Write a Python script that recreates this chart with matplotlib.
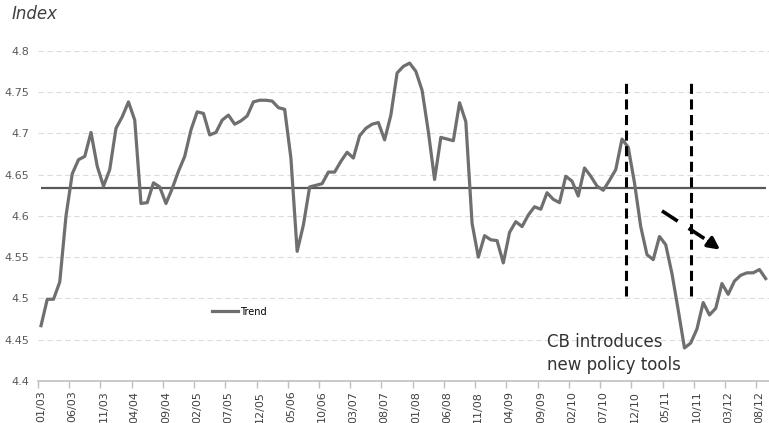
import numpy as np
import matplotlib.pyplot as plt

# monthly index, 01/03 .. 09/12
trend = [
    4.467, 4.499, 4.499, 4.520, 4.600, 4.651, 4.668, 4.672, 4.701, 4.660,
    4.636, 4.656, 4.706, 4.720, 4.738, 4.716, 4.615, 4.616, 4.640, 4.635,
    4.615, 4.633, 4.654, 4.672, 4.704, 4.726, 4.724, 4.698, 4.701, 4.716,
    4.722, 4.711, 4.715, 4.721, 4.738, 4.740, 4.740, 4.739, 4.731, 4.729,
    4.670, 4.557, 4.589, 4.635, 4.637, 4.639, 4.653, 4.653, 4.666, 4.677,
    4.670, 4.697, 4.706, 4.711, 4.713, 4.692, 4.722, 4.773, 4.781, 4.785,
    4.775, 4.752, 4.702, 4.644, 4.695, 4.693, 4.691, 4.737, 4.714, 4.591,
    4.550, 4.576, 4.571, 4.570, 4.543, 4.580, 4.593, 4.587, 4.601, 4.611,
    4.608, 4.628, 4.620, 4.616, 4.648, 4.642, 4.624, 4.658, 4.648, 4.636,
    4.631, 4.643, 4.656, 4.693, 4.683, 4.640, 4.587, 4.553, 4.547, 4.575,
    4.565, 4.530, 4.486, 4.440, 4.446, 4.463, 4.495, 4.480, 4.488, 4.518,
    4.505, 4.521, 4.528, 4.531, 4.531, 4.535, 4.524,
]
mean_level = 4.634
tick_labels = ['01/03', '06/03', '11/03', '04/04', '09/04', '02/05', '07/05',
               '12/05', '05/06', '10/06', '03/07', '08/07', '01/08', '06/08',
               '11/08', '04/09', '09/09', '02/10', '07/10', '12/10', '05/11',
               '10/11', '03/12', '08/12']
y_ticks = [4.4, 4.45, 4.5, 4.55, 4.6, 4.65, 4.7, 4.75, 4.8]
policy_dates = [93.7, 104.0]   # month positions of the vertical markers

fig = plt.figure(figsize=(7.69, 4.23), dpi=100)
ax = fig.add_axes([37.9/769, 42/423, 730.9/769, 330.3/423])

x = np.arange(len(trend))
ax.plot(x, trend, color='#6f6f6f', lw=2.3, label='Trend', solid_joinstyle='round', zorder=3)
ax.hlines(mean_level, x[0], x[-1], color='#595959', lw=1.6, zorder=2)

ax.set_xlim(-0.5, len(trend) - 0.5)
ax.set_ylim(4.4, 4.8)

# y axis
ax.set_yticks(y_ticks)
ax.set_yticklabels(['{:g}'.format(v) for v in y_ticks])
ax.tick_params(axis='y', length=0, pad=6, labelsize=8, labelcolor='#595959')
for v in y_ticks[1:]:
    ax.axhline(v, color='#dcdcdc', lw=0.8, dashes=(5, 3), zorder=1)

# x axis: labels in the category, tick marks on the boundaries
pos = np.arange(len(tick_labels)) * 5
ax.set_xticks(pos)
ax.set_xticklabels(tick_labels, rotation=90)
ax.tick_params(axis='x', which='major', length=0, pad=7, labelsize=8, labelcolor='#404040')
ax.set_xticks(pos - 0.5, minor=True)
ax.tick_params(axis='x', which='minor', length=5, width=1, color='#bfbfbf')

for s in ['top', 'right', 'left']:
    ax.spines[s].set_visible(False)
ax.spines['bottom'].set_color('#bfbfbf')
ax.spines['bottom'].set_linewidth(1.2)

# policy markers
for d in policy_dates:
    ax.vlines(d, 4.503, 4.767, color='black', lw=2.2, linestyles=(0, (3.3, 1.8)), zorder=4)

# dashed arrow
ax.plot([99.4, 107.2], [4.606, 4.5675], color='black', lw=2.6, dashes=(5.2, 3.6),
        solid_capstyle='butt', zorder=4)
ax.annotate('', xy=(108.7, 4.559), xytext=(106.9, 4.569),
            arrowprops=dict(arrowstyle='-|>,head_length=0.7,head_width=0.35',
                            color='black', lw=2.6, shrinkA=0, shrinkB=0), zorder=4)

ax.text(80.95, 4.458, 'CB introduces\nnew policy tools', ha='left', va='top',
        fontsize=12, color='#333333', linespacing=1.35)

fig.text(12/769, 1 - 14/423, 'Index', ha='left', va='center', fontsize=12,
         style='italic', color='#404040')

ax.legend(loc='center left', bbox_to_anchor=(212/769, 1 - 311.7/423),
          bbox_transform=fig.transFigure, frameon=False, fontsize=7,
          handlelength=2.7, handletextpad=0.2, borderpad=0, borderaxespad=0)

fig.savefig('out.png', dpi=100)
